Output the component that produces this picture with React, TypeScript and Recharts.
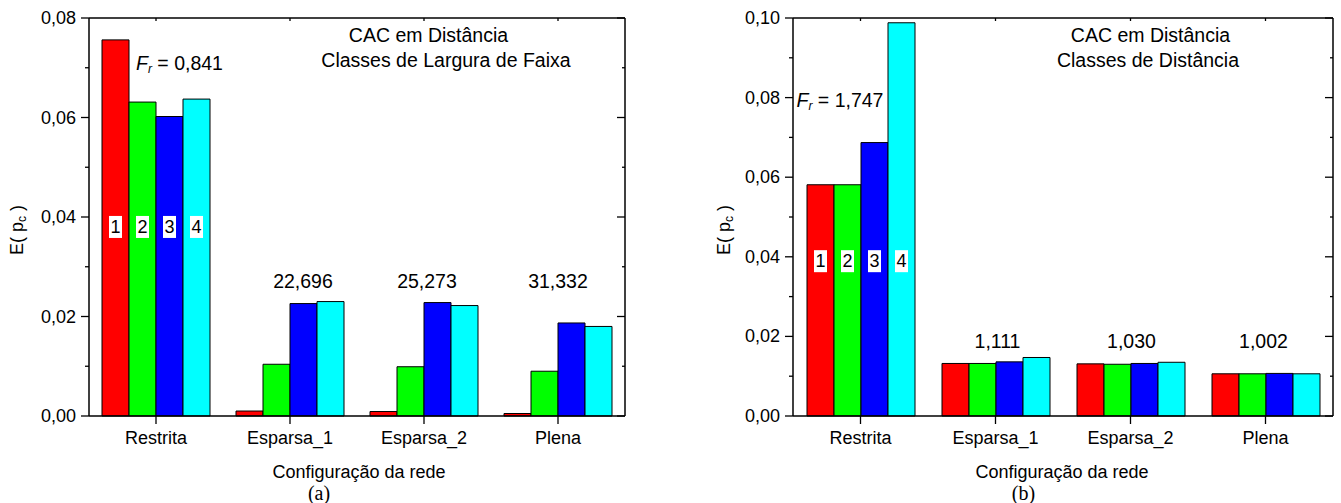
import React from 'react';
import { BarChart, Bar, XAxis, YAxis, ReferenceDot, LabelList } from 'recharts';

const categories = ['Restrita', 'Esparsa_1', 'Esparsa_2', 'Plena'];
const classNames = ['1', '2', '3', '4'];
const classColors = ['#ff0000', '#00ff00', '#0000ff', '#00ffff'];

// (a) Classes de Largura de Faixa
const bandClass1 = [0.0756, 0.001, 0.0009, 0.0005];
const bandClass2 = [0.0631, 0.0104, 0.0099, 0.009];
const bandClass3 = [0.0602, 0.0226, 0.0228, 0.0187];
const bandClass4 = [0.0637, 0.023, 0.0222, 0.018];
const bandRatios = ['0,841', '22,696', '25,273', '31,332'];
const bandTicks = [0, 0.01, 0.02, 0.03, 0.04, 0.05, 0.06, 0.07, 0.08];

// (b) Classes de Distância
const distClass1 = [0.0581, 0.0132, 0.0131, 0.0106];
const distClass2 = [0.0581, 0.0132, 0.013, 0.0106];
const distClass3 = [0.0687, 0.0136, 0.0132, 0.0107];
const distClass4 = [0.0988, 0.0147, 0.0135, 0.0106];
const distRatios = ['1,747', '1,111', '1,030', '1,002'];
const distTicks = [0, 0.01, 0.02, 0.03, 0.04, 0.05, 0.06, 0.07, 0.08, 0.09, 0.1];

const FONT = '"Liberation Sans", Arial, sans-serif';

const buildRows = (series: number[][]) =>
  categories.map((name, i) => {
    const row: any = { name };
    series.forEach((s, k) => (row['c' + k] = s[i]));
    return row;
  });

const fmt = (v: number) => v.toFixed(2).replace('.', ',');
const isMajor = (v: number) => Math.round(v * 100) % 2 === 0;

const LeftTick = (props: any) => {
  const { x, y, payload } = props;
  const ax = x + 13;
  const major = isMajor(payload.value);
  return (
    <g>
      <line x1={ax - (major ? 8 : 4)} x2={ax} y1={y} y2={y} stroke="#000" strokeWidth={1.3} />
      {major && (
        <text x={x} y={y} textAnchor="end" dominantBaseline="central" fontSize={18} fill="#000" fontFamily={FONT}>
          {fmt(payload.value)}
        </text>
      )}
    </g>
  );
};

const RightTick = (props: any) => {
  const { x, y, payload } = props;
  const major = isMajor(payload.value);
  return <line x1={x - (major ? 8 : 3)} x2={x} y1={y} y2={y} stroke="#000" strokeWidth={1.3} />;
};

const TopTick = (props: any) => {
  const { x, y } = props;
  return <line x1={x} x2={x} y1={y} y2={y + 3} stroke="#000" strokeWidth={1.3} />;
};

type PanelProps = {
  series: number[][];
  ticks: number[];
  ratios: string[];
  frAt: number;
  frDx: number;
  ratioAt: number;
  ratioDx: number[];
  boxAt: number;
  width: number;
  left: number;
  right: number;
};

const Panel = ({ series, ticks, ratios, frAt, frDx, ratioAt, ratioDx, boxAt, width, left, right }: PanelProps) => {
  const rows = buildRows(series);
  const yMax = ticks[ticks.length - 1];

  const classBox = (k: number) => (p: any) => {
    if (p.index !== 0) return null;
    const bottom = p.y + p.height;
    const cy = bottom - (boxAt * p.height) / p.value;
    const cx = p.x + p.width / 2;
    return (
      <g>
        <rect x={cx - 6.5} y={cy - 11} width={13} height={22} fill="#fff" />
        <text x={cx} y={cy} textAnchor="middle" dominantBaseline="central" fontSize={18} fill="#000" fontFamily={FONT}>
          {classNames[k]}
        </text>
      </g>
    );
  };

  return (
    <BarChart
      width={width}
      height={503}
      data={rows}
      barGap={0}
      barSize={27}
      margin={{ top: 17, right: right, left: left, bottom: 57 }}
      style={{ fontFamily: FONT }}
    >
      <XAxis
        xAxisId="bottom"
        dataKey="name"
        orientation="bottom"
        height={30}
        axisLine={{ stroke: '#000', strokeWidth: 1.5 }}
        tickLine={{ stroke: '#000', strokeWidth: 1.3 }}
        tickSize={8}
        tickMargin={7}
        tick={{ fill: '#000', fontSize: 18, fontFamily: FONT }}
        interval={0}
      />
      <XAxis
        xAxisId="top"
        dataKey="name"
        orientation="top"
        height={1}
        axisLine={{ stroke: '#000', strokeWidth: 1.5 }}
        tickLine={false}
        tickSize={0}
        tickMargin={0}
        tick={<TopTick />}
        interval={0}
      />
      <YAxis
        yAxisId="left"
        type="number"
        domain={[0, yMax]}
        ticks={ticks}
        interval={0}
        width={60}
        axisLine={{ stroke: '#000', strokeWidth: 1.5 }}
        tickLine={false}
        tickSize={8}
        tickMargin={5}
        tick={<LeftTick />}
      />
      <YAxis
        yAxisId="right"
        orientation="right"
        type="number"
        domain={[0, yMax]}
        allowDataOverflow
        ticks={ticks}
        interval={0}
        width={1}
        axisLine={{ stroke: '#000', strokeWidth: 1.5 }}
        tickLine={false}
        tickSize={0}
        tickMargin={0}
        tick={<RightTick />}
      />
      {series.map((_, k) => (
        <Bar
          key={k}
          xAxisId="bottom"
          yAxisId="left"
          dataKey={'c' + k}
          fill={classColors[k]}
          stroke="#000"
          strokeWidth={1}
          isAnimationActive={false}
        >
          <LabelList dataKey={'c' + k} content={classBox(k)} />
        </Bar>
      ))}
      <ReferenceDot
        xAxisId="bottom"
        yAxisId="left"
        x={categories[0]}
        y={frAt}
        r={1}
        fill="none"
        stroke="none"
        label={(p: any) => (
          <text
            x={p.viewBox.x + 1 + frDx}
            y={p.viewBox.y + 1}
            dominantBaseline="central"
            fontSize={19.5}
            fill="#000"
            fontFamily={FONT}
          >
            <tspan fontStyle="italic">F</tspan>
            <tspan fontStyle="italic" fontSize={12} dy={6}>r</tspan>
            <tspan dy={-6}>{' = ' + ratios[0]}</tspan>
          </text>
        )}
      />
      {categories.slice(1).map((c, i) => (
        <ReferenceDot
          key={c}
          xAxisId="bottom"
          yAxisId="left"
          x={c}
          y={ratioAt}
          r={1}
          fill="none"
          stroke="none"
          label={(p: any) => (
            <text
              x={p.viewBox.x + 1 + ratioDx[i]}
              y={p.viewBox.y + 1}
              textAnchor="middle"
              dominantBaseline="central"
              fontSize={19.5}
              fill="#000"
              fontFamily={FONT}
            >
              {ratios[i + 1]}
            </text>
          )}
        />
      ))}
    </BarChart>
  );
};

const YLabel = ({ x, y }: { x: number; y: number }) => (
  <text
    x={x}
    y={y}
    transform={`rotate(-90, ${x}, ${y})`}
    textAnchor="middle"
    dominantBaseline="central"
    fontSize={18}
    fill="#000"
    fontFamily={FONT}
  >
    E( p<tspan fontSize={12} dy={5}>c</tspan>
    <tspan dy={-5}> )</tspan>
  </text>
);

const App = () => {
  return (
    <div style={{ position: 'absolute', left: 0, top: 0, width: 1341, height: 503, background: '#fff' }}>
      <div style={{ position: 'absolute', left: 0, top: 0 }}>
        <Panel
          series={[bandClass1, bandClass2, bandClass3, bandClass4]}
          ticks={bandTicks}
          ratios={bandRatios}
          frAt={0.071}
          frDx={-20}
          ratioAt={0.0271}
          ratioDx={[13, 3, 0]}
          boxAt={0.038}
          width={670}
          left={29}
          right={44}
        />
      </div>
      <div style={{ position: 'absolute', left: 670, top: 0 }}>
        <Panel
          series={[distClass1, distClass2, distClass3, distClass4]}
          ticks={distTicks}
          ratios={distRatios}
          frAt={0.0793}
          frDx={-64}
          ratioAt={0.0189}
          ratioDx={[2, 1, -2]}
          boxAt={0.0389}
          width={671}
          left={63}
          right={7}
        />
      </div>
      <svg width={1341} height={503} style={{ position: 'absolute', left: 0, top: 0, pointerEvents: 'none' }}>
        <g fontFamily={FONT} fontSize={19.5} fill="#000" textAnchor="middle">
          <text x={428.5} y={42}>CAC em Distância</text>
          <text x={446} y={67}>Classes de Largura de Faixa</text>
          <text x={1150.5} y={42}>CAC em Distância</text>
          <text x={1148} y={67}>Classes de Distância</text>
        </g>
        <YLabel x={17} y={230} />
        <YLabel x={724} y={230} />
        <g fontFamily={FONT} fontSize={18} fill="#000" textAnchor="middle">
          <text x={359} y={478}>Configuração da rede</text>
          <text x={1062} y={478}>Configuração da rede</text>
        </g>
        <g fontFamily='"Liberation Serif", "Times New Roman", serif' fontSize={20} fill="#000" textAnchor="middle">
          <text x={319} y={500}>(a)</text>
          <text x={1023.5} y={500}>(b)</text>
        </g>
      </svg>
    </div>
  );
};

export default App;
